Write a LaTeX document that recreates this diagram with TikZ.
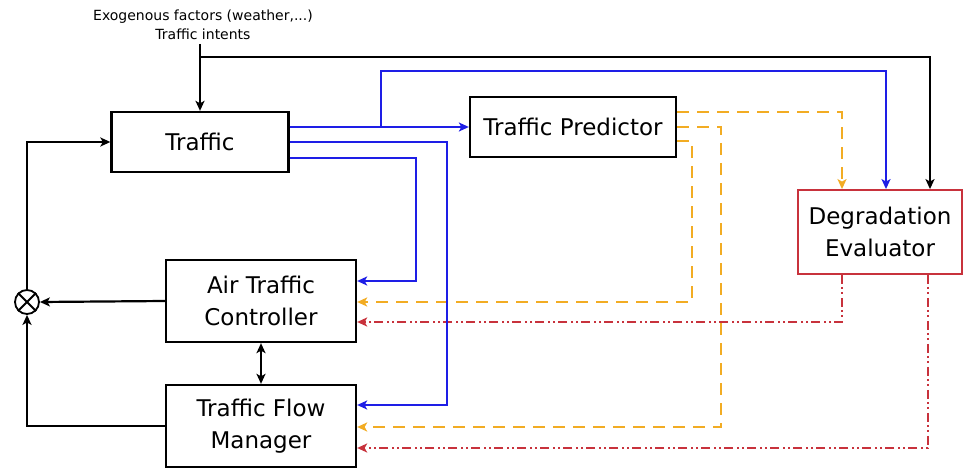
\documentclass[tikz,border=0pt]{standalone}
\usepackage{fontspec}
\setmainfont{DejaVu Sans}
\usetikzlibrary{arrows.meta,calc}
\definecolor{flowblue}{RGB}{30,30,230}
\definecolor{predorange}{RGB}{242,172,35}
\definecolor{evalred}{RGB}{200,50,60}
\begin{document}
\begin{tikzpicture}[x=1pt,y=-1pt,
  >={Stealth[length=10pt,width=9pt,inset=2.5pt]},
  block/.style={draw=black,line width=2.3pt,fill=white,align=center,
    font=\fontsize{23}{32}\selectfont,inner sep=0pt},
  sig/.style={line width=2.2pt,->},
  bluesig/.style={sig,draw=flowblue},
  predsig/.style={sig,draw=predorange,dash pattern=on 12pt off 8pt},
  evalsig/.style={sig,draw=evalred,line width=2pt,
    dash pattern=on 9pt off 3pt on 2pt off 3pt on 2pt off 4pt},
]
\useasboundingbox (0,0) rectangle (964,468);

% blocks
\node[block,minimum width=177pt,minimum height=60pt] (traffic) at (200,142) {Traffic};
\node[block,minimum width=206pt,minimum height=60pt] (pred) at (573,127) {Traffic Predictor};
\node[block,draw=evalred,line width=1.8pt,minimum width=164pt,minimum height=84pt] (deg) at (880,232) {Degradation\\Evaluator};
\node[block,minimum width=190pt,minimum height=82pt] (atc) at (261,301) {Air Traffic\\Controller};
\node[block,minimum width=190pt,minimum height=82pt] (tfm) at (261,426) {Traffic Flow\\Manager};

% summing junction
\node[draw,circle,line width=1.8pt,minimum size=24pt,inner sep=0pt] (sum) at (27,302) {};
\draw[line width=1.8pt] (sum.north west) -- (sum.south east) (sum.north east) -- (sum.south west);

% external inputs
\node[font=\fontsize{14}{19}\selectfont,align=center,inner sep=0pt] (hdr) at (203,25)
  {Exogenous factors (weather,...)\\Traffic intents};

% ports on the evaluator
\coordinate (dOr) at ($(deg.north)+(-38,0)$);
\coordinate (dBl) at ($(deg.north)+(6,0)$);
\coordinate (dBk) at ($(deg.north)+(50,0)$);
\coordinate (dOutA) at ($(deg.south)+(-38,0)$);
\coordinate (dOutB) at ($(deg.south)+(48,0)$);

% ports on the traffic block
\coordinate (tOut1) at ($(traffic.east)+(0,-15)$);
\coordinate (tOut2) at (traffic.east);
\coordinate (tOut3) at ($(traffic.east)+(0,16)$);
\coordinate (split) at ($(traffic.north)+(0,-54)$);

% exogenous input and its branch to the evaluator
\draw[sig] ($(traffic.north)+(0,-67)$) -- (traffic.north);
\draw[sig] (split) -| (dBk);

% predictor outputs
\draw[predsig] ($(pred.east)+(0,-15)$) -| (dOr);
\draw[predsig] (pred.east) -| ($(tfm.east)+(364,1)$) -- ($(tfm.east)+(0,1)$);
\draw[predsig] ($(pred.east)+(0,14)$) -| ($(atc.east)+(335,1)$) -- ($(atc.east)+(0,1)$);

% evaluator outputs
\draw[evalsig] (dOutA) |- ($(atc.east)+(0,21)$);
\draw[evalsig] (dOutB) |- ($(tfm.east)+(0,22)$);

% traffic state outputs
\draw[bluesig] (tOut1) -- (pred.west);
\draw[bluesig] ($(tOut1)+(91,0)$) -- ++(0,-56) -| (dBl);
\draw[bluesig] (tOut3) -| ($(atc.east)+(59,-20)$) -- ($(atc.east)+(0,-20)$);
\draw[bluesig] (tOut2) -| ($(tfm.east)+(90,-21)$) -- ($(tfm.east)+(0,-21)$);

% control loop
\draw[sig] (atc.west) -- (sum.east);
\draw[sig] (tfm.west) -| (sum.south);
\draw[sig] (sum.north) |- (traffic.west);
\draw[sig,<->] (atc.south) -- (tfm.north);
\end{tikzpicture}
\end{document}
